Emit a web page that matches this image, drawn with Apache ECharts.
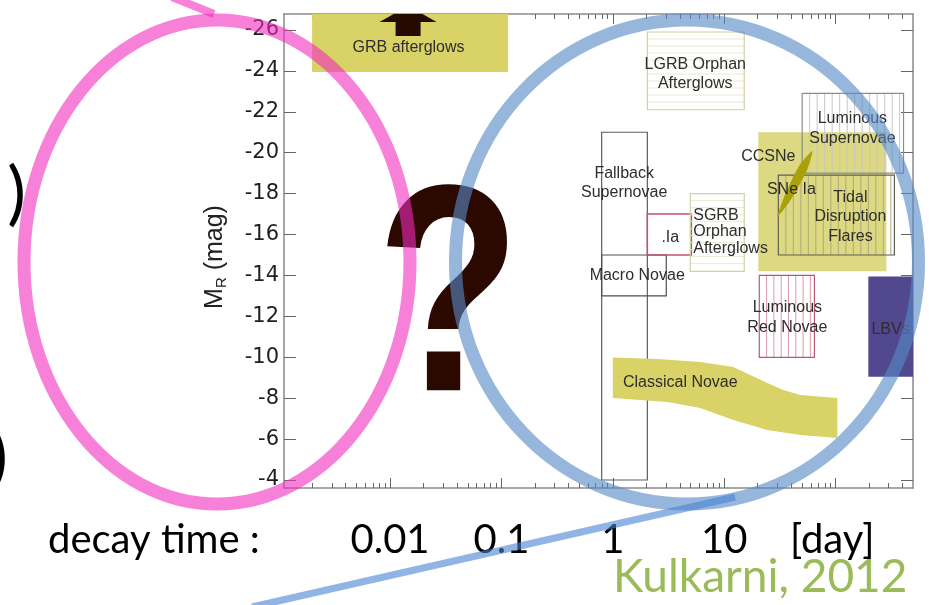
<!DOCTYPE html>
<html><head><meta charset="utf-8">
<script src="https://cdn.jsdelivr.net/npm/echarts@6/dist/echarts.min.js"></script>
<style>html,body{margin:0;padding:0;background:#fff}#c{width:932px;height:605px}</style>
</head><body><div id="c"></div>
<script>
// ---- axes (x = log10 decay time [day], y = M_R [mag]) ----
const X_MIN = -2.952, X_MAX = 2.695;
const Y_MIN = -26.78, Y_MAX = -3.61;
const xTickValues = [-2, -1, 0, 1];
const xTickLabels = ['0.01', '0.1', '1', '10'];
const xMajorTicks = [-2, -1, 0, 1, 2];
const yTickValues = [-26, -24, -22, -20, -18, -16, -14, -12, -10, -8, -6, -4];

// ---- rectangular regions ----
const boxNames     = ['Fallback Supernovae', 'Macro Novae', '.Ia', 'SGRB Orphan Afterglows', 'LGRB Orphan Afterglows', 'CCSNe', 'Luminous Supernovae', 'Tidal Disruption Flares', 'Luminous Red Novae', 'LBVs', 'GRB afterglows'];
const boxLogTStart = [-0.10, -0.10, 0.31, 0.695, 0.31, 1.306, 1.70, 1.486, 1.315, 2.294, -2.70];
const boxLogTEnd   = [0.31, 0.48, 0.705, 1.18, 1.18, 2.456, 2.61, 2.528, 1.81, 2.75, -0.94];
const boxMagBright = [-21.0, -15.0, -17.0, -18.0, -25.9, -21.0, -22.9, -18.9, -14.0, -13.95, -27.5];
const boxMagFaint  = [-4.0, -13.0, -15.0, -14.2, -22.1, -14.2, -19.0, -15.0, -10.0, -9.05, -23.95];

// ---- Classical Novae band ----
const novaeTopLogT    = [0.0, 0.40, 0.785, 1.082, 1.234, 1.387, 1.531, 1.683, 2.016];
const novaeTopMag     = [-9.99, -9.92, -9.77, -9.52, -9.13, -8.74, -8.40, -8.16, -8.01];
const novaeBottomLogT = [2.016, 1.683, 1.387, 1.082, 0.785, 0.489, 0.0];
const novaeBottomMag  = [-6.05, -6.20, -6.44, -6.93, -7.52, -7.81, -8.01];

// ---- SNe Ia sliver ----
const sneIaLogT = [1.792, 1.747, 1.670, 1.585, 1.477, 1.531, 1.598, 1.675];
const sneIaMag  = [-20.08, -19.18, -18.37, -17.59, -16.86, -17.74, -18.57, -19.38];

// ---- GRB arrow ----
const arrowLogT = [-1.838];
const arrowShaftMag = [-25.71];
const arrowHeadMag = [-26.39];
const arrowTipMag = [-27.18];

// ---- region labels ----
const labelText  = ['GRB afterglows', 'LGRB Orphan\nAfterglows', 'Luminous\nSupernovae', 'CCSNe', 'SNe Ia', 'Tidal\nDisruption\nFlares', 'Fallback\nSupernovae', '.Ia', 'SGRB\nOrphan\nAfterglows', 'Macro Novae', 'Luminous\nRed Novae', 'LBVs', 'Classical Novae'];
const labelLogT  = [-1.834, 0.740, 2.151, 1.396, 1.603, 2.133, 0.102, 0.516, 0.722, 0.219, 1.567, 2.322, 0.606];
const labelMag   = [-25.12, -23.85, -21.18, -19.79, -18.18, -16.86, -18.52, -15.83, -16.12, -13.97, -11.94, -11.33, -8.74];
const labelAlign = ['center', 'center', 'center', 'center', 'center', 'center', 'center', 'center', 'left', 'center', 'center', 'left', 'center'];

// ---- styles ----
const YELLOW = '#d8d267';
const boxStyle = {
  'Fallback Supernovae': { stroke: '#5a5e6a' },
  'Macro Novae': { stroke: '#4a4e5a' },
  '.Ia': { stroke: '#c8506a', lw: 1.5 },
  'SGRB Orphan Afterglows': { stroke: '#d2d1a0', hatch: 'h', hatchColor: '#ece9d2', gap: 7 },
  'LGRB Orphan Afterglows': { stroke: '#d2d1a0', hatch: 'h', hatchColor: '#ece9d2', gap: 7 },
  'CCSNe': { fill: '#dcd982' },
  'Luminous Supernovae': { stroke: '#8c8c8c', hatch: 'v', hatchColor: '#c6c6c6', gap: 7.5 },
  'Tidal Disruption Flares': { stroke: '#5f5f55', hatch: 'v', hatchColor: '#aeab78', gap: 7.5 },
  'Luminous Red Novae': { stroke: '#b85a72', hatch: 'v', hatchColor: '#d99aaa', gap: 7.3 },
  'LBVs': { fill: '#51488f' },
  'GRB afterglows': { fill: YELLOW }
};

const xMinorTicks = [];
for (let n = -3; n <= 2; n++) for (let k = 2; k <= 9; k++) {
  const v = n + Math.log10(k);
  if (v > X_MIN && v < X_MAX) xMinorTicks.push(v);
}

const chart = echarts.init(document.getElementById('c'), null, { renderer: 'canvas' });
const frameLine = { show: true, onZero: false, lineStyle: { color: '#8a8a8a', width: 1.5 } };
const tickStyle = { color: '#666', width: 1 };

function xAxisDef(pos, ticks, len, labels) {
  return {
    type: 'value', position: pos, min: X_MIN, max: X_MAX,
    axisLine: labels !== null ? frameLine : { show: false },
    axisTick: { show: true, inside: true, length: len, customValues: ticks, lineStyle: tickStyle },
    axisLabel: labels ? {
      show: true, customValues: xTickValues, margin: 32, color: '#000', fontFamily: 'Lato', fontSize: 40, lineHeight: 40,
      formatter: v => { const i = xTickValues.findIndex(t => Math.abs(t - v) < 1e-6); return i >= 0 ? xTickLabels[i] : ''; }
    } : { show: false },
    splitLine: { show: false }, minorTick: { show: false }
  };
}

const option = {
  animation: false,
  backgroundColor: '#fff',
  grid: { left: 284, right: 19, top: 14, bottom: 117, outerBoundsMode: 'none', containLabel: false },
  xAxis: [
    xAxisDef('bottom', xMajorTicks, 10, true),
    xAxisDef('bottom', xMinorTicks, 5, null),
    xAxisDef('top', xMajorTicks, 10, false),
    xAxisDef('top', xMinorTicks, 5, null)
  ],
  yAxis: [
    {
      type: 'value', position: 'left', inverse: true, min: Y_MIN, max: Y_MAX,
      axisLine: frameLine,
      axisTick: { show: true, inside: true, length: 12, customValues: yTickValues, lineStyle: tickStyle },
      axisLabel: { show: true, customValues: yTickValues, margin: 5, color: '#1e1e1e', fontFamily: 'DejaVu Sans', fontSize: 21 },
      splitLine: { show: false },
      name: '{a|M}{b|R}{a| (mag)}', nameLocation: 'middle', nameRotate: 90, nameGap: 55,
      nameTextStyle: { padding: [0, 12, 0, 0], rich: {
        a: { fontFamily: 'Liberation Sans', fontSize: 25, color: '#222', lineHeight: 28 },
        b: { fontFamily: 'Liberation Sans', fontSize: 15, color: '#222', verticalAlign: 'bottom', lineHeight: 22 }
      } }
    },
    {
      type: 'value', position: 'right', inverse: true, min: Y_MIN, max: Y_MAX,
      axisLine: frameLine,
      axisTick: { show: true, inside: true, length: 12, customValues: yTickValues, lineStyle: tickStyle },
      axisLabel: { show: false }, splitLine: { show: false }
    }
  ],
  series: [
    {
      type: 'custom', name: 'regions', clip: true, xAxisIndex: 0, yAxisIndex: 0,
      data: boxNames.map((n, i) => [boxLogTStart[i], boxLogTEnd[i], boxMagBright[i], boxMagFaint[i]]),
      encode: { x: [0, 1], y: [2, 3] },
      renderItem: (params, api) => {
        const i = params.dataIndex;
        const p0 = api.coord([api.value(0), api.value(2)]);
        const p1 = api.coord([api.value(1), api.value(3)]);
        const x = Math.min(p0[0], p1[0]), y = Math.min(p0[1], p1[1]);
        const w = Math.abs(p1[0] - p0[0]), h = Math.abs(p1[1] - p0[1]);
        const st = boxStyle[boxNames[i]];
        const ch = [];
        if (st.fill) ch.push({ type: 'rect', shape: { x, y, width: w, height: h }, style: { fill: st.fill } });
        if (st.hatch === 'v') {
          for (let xx = x + st.gap; xx < x + w - 2; xx += st.gap)
            ch.push({ type: 'line', shape: { x1: xx, y1: y, x2: xx, y2: y + h }, style: { stroke: st.hatchColor, lineWidth: 1 } });
        } else if (st.hatch === 'h') {
          for (let yy = y + st.gap; yy < y + h - 2; yy += st.gap)
            ch.push({ type: 'line', shape: { x1: x, y1: yy, x2: x + w, y2: yy }, style: { stroke: st.hatchColor, lineWidth: 1 } });
        }
        if (st.stroke) ch.push({ type: 'rect', shape: { x, y, width: w, height: h }, style: { fill: 'none', stroke: st.stroke, lineWidth: st.lw || 1.2 } });
        return { type: 'group', children: ch };
      }
    },
    {
      type: 'custom', name: 'SNe Ia', clip: true, xAxisIndex: 0, yAxisIndex: 0,
      data: sneIaLogT.map((t, i) => [t, sneIaMag[i]]),
      renderItem: (params, api) => {
        if (params.dataIndex !== 0) return null;
        const pts = sneIaLogT.map((t, i) => api.coord([t, sneIaMag[i]]));
        return { type: 'polygon', shape: { points: pts, smooth: 0.2 }, style: { fill: '#a9a10c' } };
      }
    },
    {
      type: 'custom', name: 'Classical Novae', clip: true, xAxisIndex: 0, yAxisIndex: 0,
      data: novaeTopLogT.map((t, i) => [t, novaeTopMag[i]]).concat(novaeBottomLogT.map((t, i) => [t, novaeBottomMag[i]])),
      renderItem: (params, api) => {
        if (params.dataIndex !== 0) return null;
        const pts = novaeTopLogT.map((t, i) => api.coord([t, novaeTopMag[i]]))
          .concat(novaeBottomLogT.map((t, i) => api.coord([t, novaeBottomMag[i]])));
        return { type: 'polygon', shape: { points: pts }, style: { fill: YELLOW } };
      }
    },
    {
      type: 'custom', name: 'arrow', clip: true, xAxisIndex: 0, yAxisIndex: 0,
      data: arrowLogT.map((t, i) => [t, arrowShaftMag[i], arrowHeadMag[i], arrowTipMag[i]]),
      encode: { x: 0, y: [1, 2, 3] },
      renderItem: (params, api) => {
        const b = api.coord([api.value(0), api.value(1)]);
        const hb = api.coord([api.value(0), api.value(2)]);
        const tip = api.coord([api.value(0), api.value(3)]);
        const cx = b[0], sw = 12.5, hw = 28.5;
        return { type: 'polygon', shape: { points: [
          [cx - sw, b[1]], [cx - sw, hb[1]], [cx - hw, hb[1]], [cx, tip[1]], [cx + hw, hb[1]], [cx + sw, hb[1]], [cx + sw, b[1]]
        ] }, style: { fill: '#250a02' } };
      }
    },
    {
      type: 'custom', name: 'labels', clip: false, xAxisIndex: 0, yAxisIndex: 0,
      data: labelText.map((s, i) => [labelLogT[i], labelMag[i]]),
      renderItem: (params, api) => {
        const i = params.dataIndex;
        const p = api.coord([api.value(0), api.value(1)]);
        return { type: 'text', x: p[0], y: p[1], style: {
          text: labelText[i], fill: '#2e2e2e', fontFamily: 'Liberation Sans', fontSize: 16,
          align: labelAlign[i], verticalAlign: 'middle', lineHeight: labelText[i].startsWith('SGRB') ? 16.5 : 19.5
        } };
      }
    }
  ],
  graphic: [
    { type: 'text', z: 50, x: 448.5, y: 309, scaleX: 0.80, style: { text: '?', x: 0, y: 0, align: 'center', verticalAlign: 'middle', fill: '#2b0900', fontFamily: 'Liberation Sans', fontWeight: 'bold', fontSize: 295 } },
    { type: 'text', z: 50, x: 48, y: 540, style: { text: 'decay time :', fill: '#000', fontFamily: 'Lato', fontSize: 40, verticalAlign: 'middle' } },
    { type: 'text', z: 50, x: 790, y: 540, style: { text: '[day]', fill: '#000', fontFamily: 'Lato', fontSize: 40, verticalAlign: 'middle' } },
    { type: 'text', z: 50, x: 613, y: 577, style: { text: 'Kulkarni, 2012', fill: '#9bbb59', fontFamily: 'Lato', fontSize: 46, verticalAlign: 'middle' } },
    { type: 'text', z: 50, x: 26, y: 194, style: { text: ')', fill: '#000', fontFamily: 'Lato', fontSize: 70, align: 'right', verticalAlign: 'middle' } },
    { type: 'text', z: 50, x: 8, y: 458, style: { text: ')', fill: '#000', fontFamily: 'Lato', fontSize: 70, align: 'right', verticalAlign: 'middle' } },
    { type: 'ellipse', z: 60, shape: { cx: 217, cy: 262, rx: 193, ry: 242 }, style: { fill: 'none', stroke: 'rgba(241,43,190,0.6)', lineWidth: 13 } },
    { type: 'line', z: 60, shape: { x1: 172, y1: -3, x2: 214, y2: 14 }, style: { stroke: 'rgba(241,43,190,0.6)', lineWidth: 8 } },
    { type: 'ellipse', z: 60, shape: { cx: 687, cy: 262, rx: 231.5, ry: 242 }, style: { fill: 'none', stroke: 'rgba(85,137,198,0.62)', lineWidth: 13 } },
    { type: 'line', z: 60, shape: { x1: 252, y1: 607, x2: 735, y2: 497 }, style: { stroke: 'rgba(70,130,210,0.6)', lineWidth: 7 } }
  ]
};
chart.setOption(option);
</script></body></html>
